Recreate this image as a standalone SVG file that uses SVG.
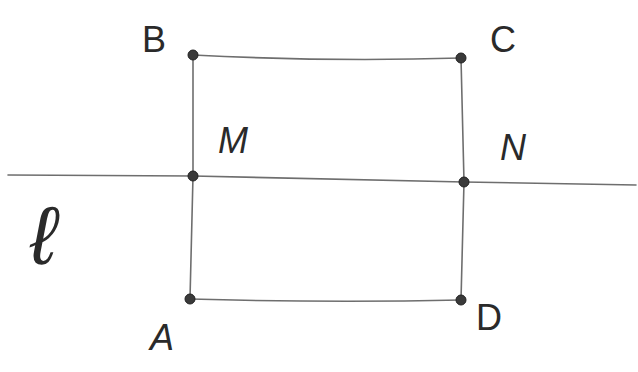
<svg xmlns="http://www.w3.org/2000/svg" width="638" height="372" viewBox="0 0 638 372">
<style>
.ln{fill:none;stroke:#6e6e6e;stroke-width:1.6;stroke-linecap:round}
.pt{fill:#3a3a3a;stroke:#222;stroke-width:1}
.lb{font-family:"Liberation Sans",sans-serif;font-size:36px;fill:#2a2a2a}
.it{font-style:italic}
.big{font-size:82px}
</style>
<rect width="638" height="372" fill="#fff"/>
<g id="connectors">
<path class="ln" d="M193,55 Q330,62 461,58"/>
<path class="ln" d="M193,55 L193,176 L190,299"/>
<path class="ln" d="M461,58 L464,182 L461,300"/>
<path class="ln" d="M190,299 Q330,303 461,300"/>
<path class="ln" d="M8,175 L193,176 L464,182 L636,185"/>
</g>
<g id="B"><circle class="pt" cx="193" cy="55" r="5"/><text class="lb" x="142" y="52">B</text></g>
<g id="C"><circle class="pt" cx="461" cy="58" r="5"/><text class="lb" x="490" y="52">C</text></g>
<g id="M"><circle class="pt" cx="193" cy="176" r="5"/><text class="lb it" x="218" y="153">M</text></g>
<g id="N"><circle class="pt" cx="464" cy="182" r="5"/><text class="lb it" x="500" y="160">N</text></g>
<g id="A"><circle class="pt" cx="190" cy="299" r="5"/><text class="lb it" x="150" y="350">A</text></g>
<g id="D"><circle class="pt" cx="461" cy="300" r="5"/><text class="lb" x="476" y="330">D</text></g>
<g id="l"><text class="lb it big" x="30" y="264">ℓ</text></g>
</svg>
